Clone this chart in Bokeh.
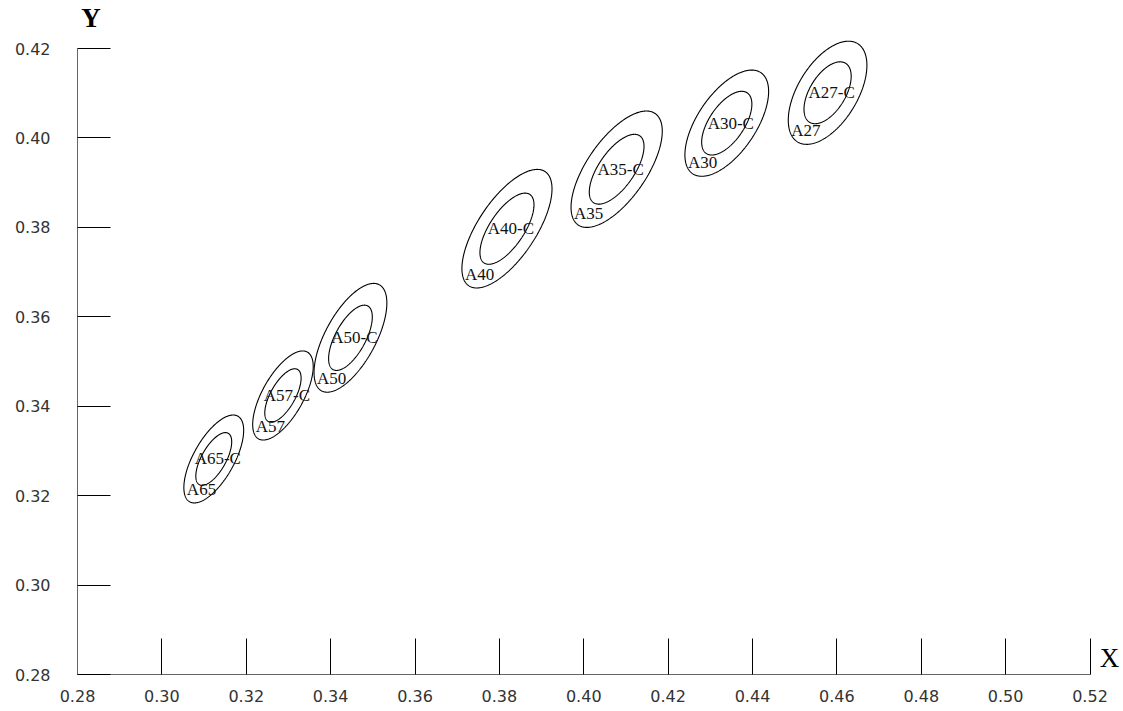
import numpy as np
from bokeh.plotting import figure
from bokeh.models import Range1d, FixedTicker, PrintfTickFormatter, ColumnDataSource, Label
from bokeh.core.properties import value
from bokeh.embed import file_html
from bokeh.resources import INLINE

# ---- data: chromaticity ellipses (centre, 1-step semi-axes, tilt in degrees) ----
names = ["A27", "A30", "A35", "A40", "A50", "A57", "A65"]
cx = [0.4578, 0.4339, 0.4078, 0.3818, 0.3447, 0.3287, 0.3123]
cy = [0.4101, 0.4033, 0.3930, 0.3797, 0.3553, 0.3424, 0.3282]
a1 = [0.00262, 0.00278, 0.00309, 0.00313, 0.00274, 0.00226, 0.00223]
b1 = [0.00139, 0.00136, 0.00138, 0.00134, 0.00118, 0.00096, 0.00095]
tilt = [56.0, 53.43, 52.97, 54.0, 59.37, 58.6, 58.57]
outer_steps = 5
inner_steps = 3

x_ticks = [0.28, 0.30, 0.32, 0.34, 0.36, 0.38, 0.40, 0.42, 0.44, 0.46, 0.48, 0.50, 0.52]
y_ticks = [0.28, 0.30, 0.32, 0.34, 0.36, 0.38, 0.40, 0.42]
x_lo, x_hi = 0.28, 0.52
y_lo, y_hi = 0.28, 0.42

t = np.linspace(0, 2 * np.pi, 361)


def outline(x0, y0, a, b, th_deg):
    th = np.radians(th_deg)
    xs = x0 + a * np.cos(t) * np.cos(th) - b * np.sin(t) * np.sin(th)
    ys = y0 + a * np.cos(t) * np.sin(th) + b * np.sin(t) * np.cos(th)
    return list(xs), list(ys)


xs_all, ys_all = [], []
out_lx, out_ly, in_lx, in_ly, out_txt, in_txt = [], [], [], [], [], []
for n, x0, y0, a, b, th in zip(names, cx, cy, a1, b1, tilt):
    for steps in (outer_steps, inner_steps):
        xs, ys = outline(x0, y0, a * steps, b * steps, th)
        xs_all.append(xs)
        ys_all.append(ys)
    xs_o, ys_o = outline(x0, y0, a * outer_steps, b * outer_steps, th)
    out_lx.append(min(xs_o))
    out_ly.append(min(ys_o))
    out_txt.append(n)
    in_lx.append(x0)
    in_ly.append(y0)
    in_txt.append(n + "-C")

# geometry: axes box 1012.5 x 626 px; frame extended right/up to hold the "X"/"Y" titles
axis_w_px, axis_h_px = 1012.5, 626.0
left_px, bottom_px = 77, 36
frame_w, frame_h = 1045, 666
x_end = x_lo + (x_hi - x_lo) * frame_w / axis_w_px
y_end = y_lo + (y_hi - y_lo) * frame_h / axis_h_px

p = figure(width=left_px + frame_w, height=frame_h + bottom_px + 8,
           output_backend="svg", toolbar_location=None,
           x_range=Range1d(x_lo, x_end), y_range=Range1d(y_lo, y_end),
           min_border_left=left_px, min_border_right=0, min_border_top=8,
           min_border_bottom=bottom_px)
p.outline_line_color = None
p.xgrid.visible = False
p.ygrid.visible = False
p.background_fill_color = "white"

for ax, ticks, tin, stand, bnd in ((p.xaxis, x_ticks, 36, 15, (x_lo, x_hi)),
                                   (p.yaxis, y_ticks, 33, 27, (y_lo, y_hi))):
    ax.ticker = FixedTicker(ticks=ticks)
    ax.formatter = PrintfTickFormatter(format="%.2f")
    ax.bounds = bnd
    ax.major_tick_in = tin
    ax.major_tick_out = 0
    ax.minor_tick_line_color = None
    ax.major_tick_line_color = "black"
    ax.axis_line_color = "#666666"
    ax.major_label_standoff = stand
    ax.major_label_text_font = "DejaVu Sans"
    ax.major_label_text_font_size = "16px"
    ax.major_label_text_color = "#333333"

p.multi_line(xs_all, ys_all, line_color="black", line_width=1.1)

src_in = ColumnDataSource(dict(x=in_lx, y=in_ly, text=in_txt))
src_out = ColumnDataSource(dict(x=out_lx, y=out_ly, text=out_txt))
p.text(x="x", y="y", text="text", source=src_in, text_font=value("Liberation Serif"),
       text_font_size=value("17px"), text_align="center", text_baseline="middle",
       x_offset=4, text_color="#111111")
p.text(x="x", y="y", text="text", source=src_out, text_font=value("Liberation Serif"),
       text_font_size=value("17px"), text_align="left", text_baseline="bottom",
       x_offset=3, y_offset=-4, text_color="#111111")

p.add_layout(Label(x=x_lo, y=y_hi, x_offset=13.5, y_offset=16, text="Y", text_align="center",
                   text_baseline="bottom", text_font="Liberation Serif", text_font_style="bold",
                   text_font_size="27px", text_color="black"))
p.add_layout(Label(x=x_hi, y=y_lo, x_offset=19.5, y_offset=2, text="X", text_align="center",
                   text_baseline="bottom", text_font="Liberation Serif",
                   text_font_size="27px", text_color="black"))

open("out.html", "w").write(file_html(p, INLINE))
